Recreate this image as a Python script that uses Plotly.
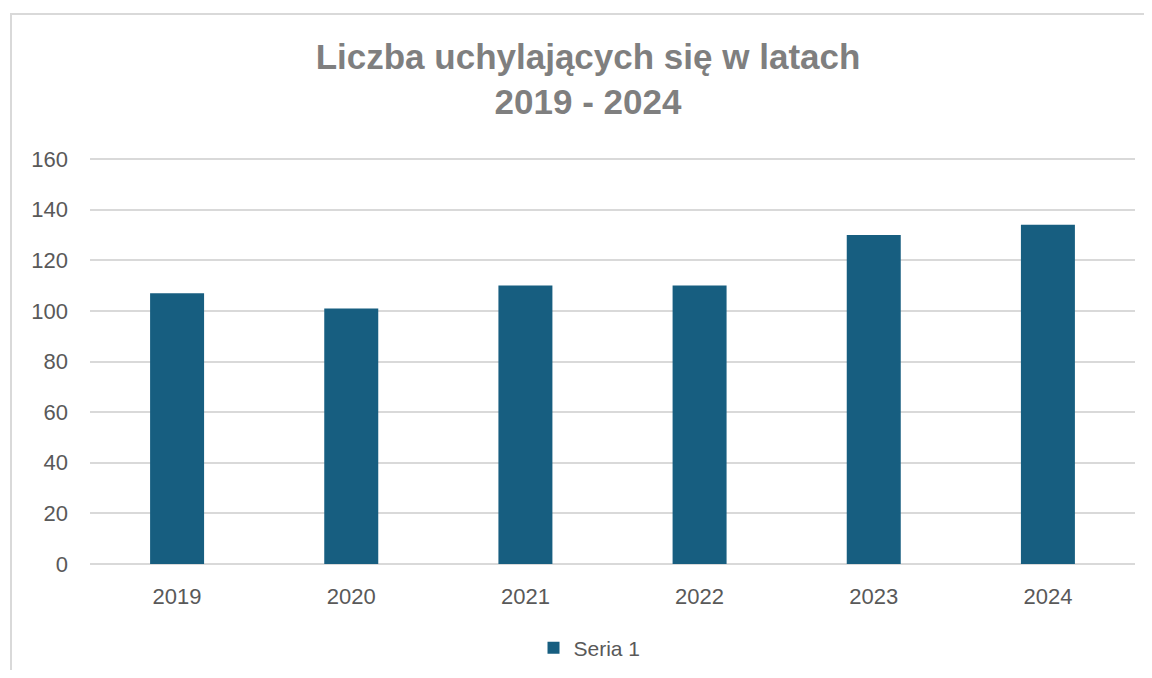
import plotly.graph_objects as go

years = ["2019", "2020", "2021", "2022", "2023", "2024"]
values = [107, 101, 110, 110, 130, 134]
series_name = "Seria 1"
title_text = "Liczba uchylających się w latach<br>2019 - 2024"
y_ticks = [0, 20, 40, 60, 80, 100, 120, 140, 160]

bar_color = "#175e80"
grid_color = "#d9d9d9"
text_color = "#595959"
font_family = "Liberation Sans, Arial, sans-serif"

fig = go.Figure()
fig.add_trace(go.Bar(x=years, y=values, name=series_name, marker=dict(color=bar_color, line=dict(width=0))))

fig.update_layout(
    width=1136, height=662,
    margin=dict(l=82, r=9, t=146, b=106, autoexpand=False),
    paper_bgcolor="white", plot_bgcolor="white",
    bargap=0.69,
    showlegend=True,
    font=dict(family=font_family, color=text_color, size=22),
    title=dict(text=title_text, x=580 / 1136, xref="container", xanchor="center",
               y=1 - 60.5 / 662, yref="container", yanchor="middle",
               font=dict(family=font_family, size=35, color="#7f7f7f", weight="bold")),
    legend=dict(orientation="h", x=0.478, xanchor="center", y=-84 / 410, yanchor="middle",
                font=dict(size=21, color=text_color)),
    xaxis=dict(showgrid=False, showline=False, zeroline=False, ticks="",
               tickfont=dict(size=22, color=text_color), ticklabelstandoff=17),
    yaxis=dict(range=[0, 162], tickvals=y_ticks, showgrid=True, gridcolor=grid_color, gridwidth=2,
               zeroline=True, zerolinecolor=grid_color, zerolinewidth=2, showline=False, ticks="",
               tickfont=dict(size=22, color=text_color), ticklabelstandoff=21),
    shapes=[dict(type="rect", xref="paper", yref="paper", x0=-0.0756, x1=1.3, y0=-0.7, y1=1 + 140 / 410,
                 line=dict(color=grid_color, width=2), fillcolor="rgba(0,0,0,0)", layer="below")],
)

fig.write_html("out.html")
